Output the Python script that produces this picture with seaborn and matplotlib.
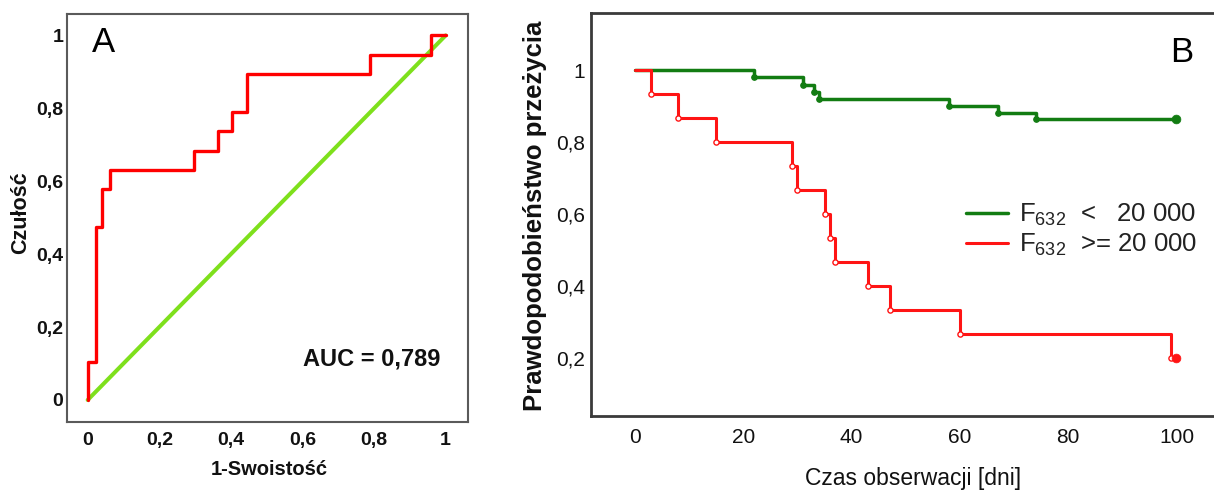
import matplotlib
matplotlib.use('Agg')
import pandas as pd
import seaborn as sns
import matplotlib.pyplot as plt

# panel A - ROC curve
roc_fpr = [0, 0.022, 0.041, 0.062, 0.297, 0.363, 0.404, 0.446, 0.79, 0.96, 1.0]
roc_tpr = [0, 0.105, 0.474, 0.579, 0.632, 0.684, 0.737, 0.789, 0.895, 0.947, 1.0]
diag = [0, 1]
roc_ticks = [0, 0.2, 0.4, 0.6, 0.8, 1]
roc_ticklabels = ['0', '0,2', '0,4', '0,6', '0,8', '1']
auc_text = 'AUC = 0,789'

# panel B - Kaplan-Meier curves
low_days = [0, 22, 31, 33, 34, 58, 67, 74, 100]
low_surv = [1, 0.98, 0.96, 0.94, 0.92, 0.90, 0.88, 0.864, 0.864]
high_days = [0, 3, 8, 15, 29, 30, 35, 36, 37, 43, 47, 60, 99, 100]
high_surv = [1, 0.933, 0.867, 0.8, 0.733, 0.667, 0.6, 0.533, 0.467, 0.4, 0.333, 0.267, 0.2, 0.2]
km_xticks = [0, 20, 40, 60, 80, 100]
km_yticks = [0.2, 0.4, 0.6, 0.8, 1]
km_yticklabels = ['0,2', '0,4', '0,6', '0,8', '1']
low_label = 'F$_{632}$  <   20 000'
high_label = 'F$_{632}$  >= 20 000'

sns.set_theme(style='white')
plt.rcParams['font.family'] = ['Liberation Sans', 'DejaVu Sans']
plt.rcParams['mathtext.default'] = 'regular'

fig = plt.figure(figsize=(12.14, 4.96), dpi=100)

# ---------- A ----------
ax1 = fig.add_axes([0.0549, 0.1486, 0.3308, 0.8238])
roc = pd.DataFrame({'fpr': roc_fpr, 'tpr': roc_tpr})
sns.lineplot(x=diag, y=diag, ax=ax1, color='#7ee01c', linewidth=2.9, estimator=None)
sns.lineplot(data=roc, x='fpr', y='tpr', ax=ax1, color='#ff0000', linewidth=2.4,
             drawstyle='steps-pre', estimator=None, sort=False)
ax1.set_xlim(-0.0587, 1.0631)
ax1.set_ylim(-0.0612, 1.0596)
ax1.set_xticks(roc_ticks)
ax1.set_xticklabels(roc_ticklabels)
ax1.set_yticks(roc_ticks)
ax1.set_yticklabels(roc_ticklabels)
ax1.tick_params(axis='both', direction='in', length=5, width=1.3, color='#333333',
                labelsize=14, labelcolor='#111111')
ax1.tick_params(axis='x', pad=7)
ax1.tick_params(axis='y', pad=2.5)
for lab in ax1.get_xticklabels() + ax1.get_yticklabels():
    lab.set_fontweight('bold')
for sp in ax1.spines.values():
    sp.set_color('#5a5a5a')
    sp.set_linewidth(1.5)
ax1.set_xlabel('1-Swoistość', fontsize=14.5, fontweight='bold', color='#111111')
ax1.set_ylabel('Czułość', fontsize=15.5, fontweight='bold', color='#111111')
ax1.xaxis.set_label_coords(0.504, -0.093)
ax1.yaxis.set_label_coords(-0.089, 0.5126)
ax1.text(0.063, 0.907, 'A', transform=ax1.transAxes, fontsize=25, color='black')
ax1.text(0.9296, 0.1386, auc_text, transform=ax1.transAxes, fontsize=17,
         fontweight='bold', ha='right', va='baseline', color='#111111')

# ---------- B ----------
ax2 = fig.add_axes([0.4872, 0.1619, 0.5354, 0.8113])
low = pd.DataFrame({'days': low_days, 'surv': low_surv})
high = pd.DataFrame({'days': high_days, 'surv': high_surv})
sns.lineplot(data=low, x='days', y='surv', ax=ax2, color='#127c12', linewidth=2.5,
             drawstyle='steps-post', estimator=None, label=low_label)
sns.lineplot(data=high, x='days', y='surv', ax=ax2, color='#ff1414', linewidth=2.2,
             drawstyle='steps-post', estimator=None, label=high_label)
# censoring / event marks
sns.scatterplot(data=low.iloc[1:-1], x='days', y='surv', ax=ax2, color='#127c12',
                s=16, edgecolor='#127c12', linewidth=0.8, zorder=4)
sns.scatterplot(data=high.iloc[1:-1], x='days', y='surv', ax=ax2, color='white',
                s=14, edgecolor='#ff1414', linewidth=1.0, zorder=4)
sns.scatterplot(data=low.iloc[-1:], x='days', y='surv', ax=ax2, color='#127c12',
                s=40, edgecolor='#127c12', zorder=5)
sns.scatterplot(data=high.iloc[-1:], x='days', y='surv', ax=ax2, color='#ff1414',
                s=40, edgecolor='#ff1414', zorder=5)
ax2.set_xlim(-8.05, 112)
ax2.set_ylim(0.0386, 1.1587)
ax2.set_xticks(km_xticks)
ax2.set_xticklabels([str(t) for t in km_xticks])
ax2.set_yticks(km_yticks)
ax2.set_yticklabels(km_yticklabels)
ax2.tick_params(axis='both', direction='inout', length=7, width=1.4, color='#222222',
                labelsize=15, labelcolor='#111111')
ax2.tick_params(axis='x', pad=5)
ax2.tick_params(axis='y', pad=1)
ax2.spines['right'].set_visible(False)
for sp in ['left', 'top', 'bottom']:
    ax2.spines[sp].set_color('#3a3a3a')
    ax2.spines[sp].set_linewidth(2)
ax2.set_xlabel('Czas obserwacji [dni]', fontsize=16.5, color='#111111')
ax2.set_ylabel('Prawdopodobieństwo przeżycia', fontsize=18.5, fontweight='bold',
               color='#111111')
ax2.xaxis.set_label_coords(0.495, -0.1275)
ax2.yaxis.set_label_coords(-0.068, 0.496)
ax2.text(98.9, 0.878, 'B', transform=ax2.get_xaxis_transform(), fontsize=25,
         color='black')
ax2.legend(loc='upper left', bbox_to_anchor=(0.576, 0.531), frameon=False,
           fontsize=18.5, handlelength=1.65, handletextpad=0.4, borderpad=0,
           borderaxespad=0, labelspacing=0.14, labelcolor='#222222')

fig.savefig('out.png', dpi=100)
